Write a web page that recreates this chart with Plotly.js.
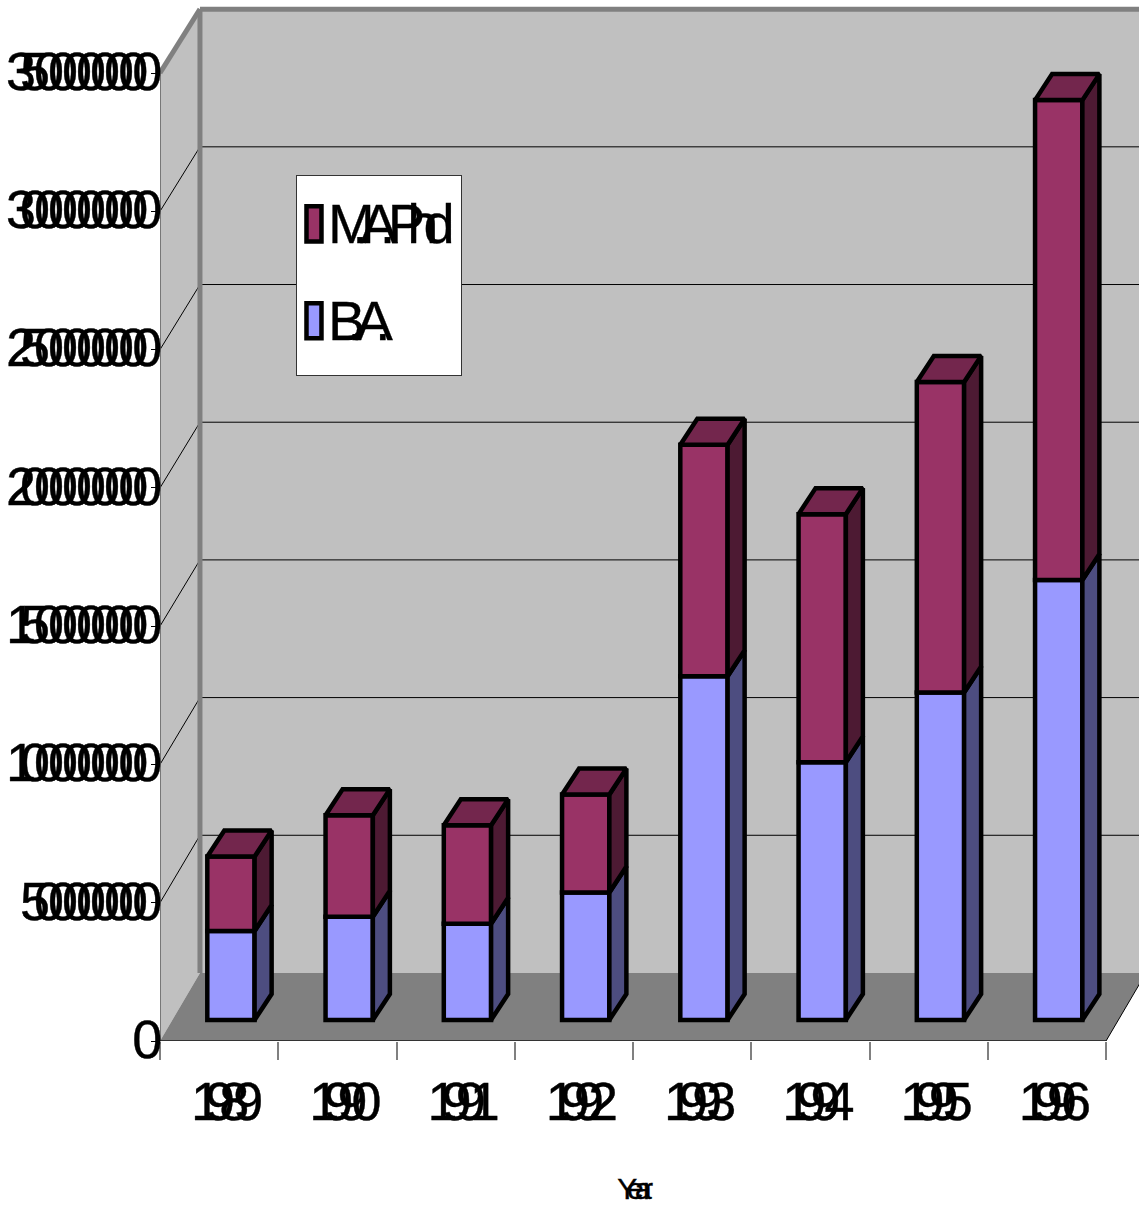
<!DOCTYPE html>
<html>
<head>
<meta charset="utf-8">
<script src="https://cdn.plot.ly/plotly-3.0.1.min.js"></script>
<style>
html, body { margin: 0; padding: 0; background: #fff; }
#chart { width: 1139px; height: 1205px; }
.ytick text, .xtick text { letter-spacing: -16px; stroke: #000; stroke-width: 0.4px; }
.ytick text { translate: 0 -2px; }
.legendtext { stroke: #000; stroke-width: 0.3px; transform: translate(-9px, 2px); }
.xtitle { stroke: #000; stroke-width: 0.4px; transform: translateX(-17px); }
.legendpoints path { transform: translate(17px, 5px) scale(1.25, 2.92); vector-effect: non-scaling-stroke; }
.legend .bg { height: 200px; width: 165px; }
</style>
</head>
<body>
<div id="chart"></div>
<script>
// Stacked columns per year, drawn as oblique boxes on a walled floor
const years = ['1989', '1990', '1991', '1992', '1993', '1994', '1995', '1996'];
const baValues = [322000000, 373000000, 348000000, 461000000, 1243000000, 932000000, 1184000000, 1591000000];
const maValues = [269000000, 367000000, 356000000, 354000000, 837000000, 897000000, 1123000000, 1735000000];
const yTicks = [0, 500000000, 1000000000, 1500000000, 2000000000, 2500000000, 3000000000, 3500000000];
const seriesNames = ['B.A.', 'M.A.Phd'];
const axisTitle = 'Year';

// Palette
const wallGrey = '#c0c0c0', floorGrey = '#808080';
const baFront = '#9999ff', baSide = '#4d4d80';
const maFront = '#993366', maSide = '#4d1a33', maTop = '#73264d';

// Oblique projection of the box, in axis units
const boxDx = 0.338, boxDy = 246000000, backScale = 0.9957;
const barShiftX = 0.1, barShiftY = 76000000;
const barDx = 0.144, barDy = 94000000;
const barWidth = 0.4;
const xMax = 8.279, yMax = 3764000000;
const edgeWidth = 4.5;

const topValue = yTicks[yTicks.length - 1];
const back = v => v * backScale + boxDy;
const centers = years.map((_, i) => i + 0.5 + barShiftX);
const baTops = baValues.map(v => v + barShiftY);
const totals = baValues.map((v, i) => v + maValues[i] + barShiftY);

// Condensed lettering: each glyph advances by a fraction of its usual width
const glyphWidths = { M: 0.833, '.': 0.278, A: 0.667, B: 0.667, P: 0.667, Y: 0.667, h: 0.556, d: 0.556, e: 0.556, a: 0.556, r: 0.333 };
const condensed = (text, size, keep) => Array.from(text).map(c =>
  `<span style="letter-spacing:${(-(1 - keep) * glyphWidths[c] * size).toFixed(1)}px">${c}</span>`).join('');

function polygons(build) {
  const xs = [], ys = [];
  years.forEach((_, i) => {
    build(i).forEach(p => { xs.push(p[0]); ys.push(p[1]); });
    xs.push(null); ys.push(null);
  });
  return { x: xs, y: ys };
}
const faceTrace = (poly, color) => ({
  type: 'scatter', mode: 'lines', x: poly.x, y: poly.y, fill: 'toself', fillcolor: color,
  line: { color: '#000', width: edgeWidth, shape: 'linear' }, showlegend: false, hoverinfo: 'skip'
});

const baSidePoly = polygons(i => {
  const r = centers[i] + barWidth / 2;
  return [[r, barShiftY], [r + barDx, barShiftY + barDy], [r + barDx, baTops[i] + barDy], [r, baTops[i]], [r, barShiftY]];
});
const maSidePoly = polygons(i => {
  const r = centers[i] + barWidth / 2;
  return [[r, baTops[i]], [r + barDx, baTops[i] + barDy], [r + barDx, totals[i] + barDy], [r, totals[i]], [r, baTops[i]]];
});
const maTopPoly = polygons(i => {
  const l = centers[i] - barWidth / 2, r = centers[i] + barWidth / 2;
  return [[l, totals[i]], [r, totals[i]], [r + barDx, totals[i] + barDy], [l + barDx, totals[i] + barDy], [l, totals[i]]];
});

const traces = [
  {
    type: 'bar', name: condensed(seriesNames[0], 56, 0.52), legendgroup: 'ba', legendrank: 2, x: centers, y: baValues,
    base: baValues.map(() => barShiftY), width: barWidth,
    marker: { color: baFront, line: { color: '#000', width: edgeWidth } }
  },
  {
    type: 'bar', name: condensed(seriesNames[1], 56, 0.52), legendgroup: 'ma', legendrank: 1, x: centers, y: maValues,
    base: baTops, width: barWidth,
    marker: { color: maFront, line: { color: '#000', width: edgeWidth } }
  },
  faceTrace(baSidePoly, baSide),
  faceTrace(maSidePoly, maSide),
  faceTrace(maTopPoly, maTop)
];

const poly = pts => 'M' + pts.map(p => p[0] + ',' + p[1]).join('L') + 'Z';
const shapes = [
  // back wall, side wall, floor
  { type: 'path', layer: 'below', path: poly([[boxDx, back(0)], [xMax + 1, back(0)], [xMax + 1, back(topValue)], [boxDx, back(topValue)]]), fillcolor: wallGrey, line: { width: 0 } },
  { type: 'path', layer: 'below', path: poly([[0, 0], [boxDx, back(0)], [boxDx, back(topValue)], [0, topValue]]), fillcolor: wallGrey, line: { width: 0 } },
  { type: 'path', layer: 'below', path: poly([[0, 0], [8, 0], [8 + boxDx, back(0)], [boxDx, back(0)]]), fillcolor: floorGrey, line: { width: 0 } }
];
// grid lines run along the side wall and across the back wall
yTicks.slice(1, -1).forEach(v => {
  shapes.push({ type: 'line', layer: 'below', x0: 0, y0: v, x1: boxDx, y1: back(v), line: { color: '#000', width: 1 } });
  shapes.push({ type: 'line', layer: 'below', x0: boxDx, y0: back(v), x1: xMax + 1, y1: back(v), line: { color: '#000', width: 1 } });
});
// heavy wall edges, axis edges
shapes.push(
  { type: 'line', layer: 'below', x0: boxDx, y0: back(0), x1: boxDx, y1: back(topValue), line: { color: floorGrey, width: 5 } },
  { type: 'line', layer: 'below', x0: boxDx, y0: back(topValue), x1: xMax + 1, y1: back(topValue), line: { color: floorGrey, width: 5 } },
  { type: 'line', layer: 'below', x0: 0, y0: topValue, x1: boxDx, y1: back(topValue), line: { color: floorGrey, width: 5 } },
  { type: 'line', layer: 'below', x0: 0, y0: 0, x1: 0, y1: topValue, line: { color: '#777', width: 2 } },
  { type: 'line', layer: 'below', x0: 0, y0: 0, x1: 8, y1: 0, line: { color: '#333', width: 2 } },
  { type: 'line', layer: 'below', x0: 8, y0: 0, x1: 8 + boxDx, y1: back(0), line: { color: '#000', width: 1 } }
);

const textFont = 'Liberation Sans, Arial, sans-serif';
const layout = {
  width: 1139, height: 1205,
  margin: { l: 160, r: 0, t: 0, b: 164, pad: 0 },
  paper_bgcolor: '#fff', plot_bgcolor: '#fff',
  barmode: 'overlay',
  showlegend: true,
  legend: {
    x: 0.1389, y: 0.8319, xanchor: 'left', yanchor: 'top',
    bgcolor: '#fff', bordercolor: '#333', borderwidth: 1,
    traceorder: 'grouped', tracegroupgap: 21,
    itemwidth: 30, entrywidth: 125, entrywidthmode: 'pixels',
    font: { family: textFont, size: 56, color: '#000' }
  },
  xaxis: {
    range: [0, xMax], autorange: false, showgrid: false, zeroline: false, showline: false,
    tickmode: 'array', tickvals: years.map((_, i) => i + 0.5), ticktext: years,
    ticks: '', ticklabelstandoff: 24, tickangle: 0,
    tickfont: { family: textFont, size: 54, color: '#000' },
    minor: { tick0: 0, dtick: 1, ticks: 'outside', ticklen: 18, tickwidth: 2, tickcolor: '#808080', showgrid: false },
    title: { text: condensed(axisTitle, 30, 0.48), standoff: 47, font: { family: textFont, size: 30, color: '#000' } }
  },
  yaxis: {
    range: [0, yMax], autorange: false, showgrid: false, zeroline: false, showline: false,
    tickmode: 'array', tickvals: yTicks, ticktext: yTicks.map(String),
    ticks: 'outside', ticklen: 8, tickwidth: 1, tickcolor: '#000', ticklabelstandoff: -6,
    tickfont: { family: textFont, size: 54, color: '#000' }
  },
  shapes: shapes
};

Plotly.newPlot('chart', traces, layout, { displayModeBar: false, staticPlot: true });
</script>
</body>
</html>
